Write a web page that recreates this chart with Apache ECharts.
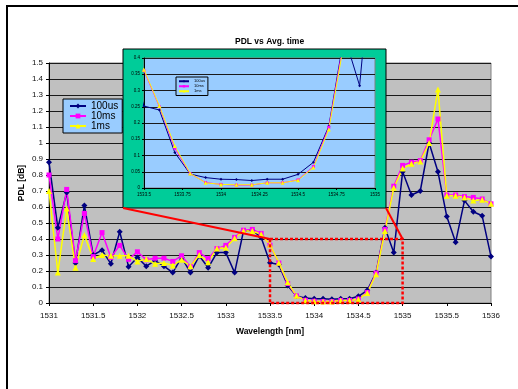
<!DOCTYPE html>
<html>
<head>
<meta charset="utf-8">
<script src="https://cdn.jsdelivr.net/npm/echarts@6/dist/echarts.min.js"></script>
<style>
  html, body { margin: 0; padding: 0; background: #fff; }
  #chart { width: 518px; height: 389px; }
</style>
</head>
<body>
<div id="chart"></div>
<script>
// Wavelength sample points [nm]
const wavelengths = [
  1531.0, 1531.1, 1531.2, 1531.3, 1531.4, 1531.5, 1531.6, 1531.7, 1531.8, 1531.9,
  1532.0, 1532.1, 1532.2, 1532.3, 1532.4, 1532.5, 1532.6, 1532.7, 1532.8, 1532.9,
  1533.0, 1533.1, 1533.2, 1533.3, 1533.4, 1533.5, 1533.6, 1533.7, 1533.8, 1533.9,
  1534.0, 1534.1, 1534.2, 1534.3, 1534.4, 1534.5, 1534.6, 1534.7, 1534.8, 1534.9,
  1535.0, 1535.1, 1535.2, 1535.3, 1535.4, 1535.5, 1535.6, 1535.7, 1535.8, 1535.9,
  1536.0
];

// PDL [dB] for each averaging time
const pdl100us = [
  0.88, 0.47, 0.69, 0.25, 0.61, 0.30, 0.33, 0.245, 0.445, 0.227,
  0.285, 0.23, 0.265, 0.23, 0.19, 0.285, 0.19, 0.295, 0.22, 0.315,
  0.315, 0.19, 0.45, 0.455, 0.41, 0.252, 0.24, 0.109, 0.043, 0.032,
  0.027, 0.026, 0.023, 0.027, 0.027, 0.042, 0.079, 0.19, 0.47, 0.315,
  0.82, 0.675, 0.70, 1.00, 0.82, 0.54, 0.38, 0.64, 0.57, 0.545,
  0.29
];
const pdl10ms = [
  0.80, 0.40, 0.71, 0.265, 0.56, 0.29, 0.44, 0.285, 0.36, 0.273,
  0.32, 0.27, 0.28, 0.28, 0.26, 0.295, 0.227, 0.315, 0.277, 0.34,
  0.36, 0.41, 0.455, 0.46, 0.435, 0.361, 0.25, 0.122, 0.044, 0.017,
  0.011, 0.009, 0.009, 0.016, 0.016, 0.025, 0.066, 0.187, 0.46, 0.73,
  0.86, 0.88, 0.89, 1.02, 1.15, 0.675, 0.675, 0.665, 0.66, 0.65,
  0.62
];
const pdl1ms = [
  0.70, 0.19, 0.59, 0.22, 0.425, 0.275, 0.30, 0.295, 0.295, 0.295,
  0.26, 0.275, 0.245, 0.25, 0.235, 0.27, 0.23, 0.30, 0.255, 0.34,
  0.345, 0.405, 0.45, 0.45, 0.43, 0.364, 0.252, 0.129, 0.045, 0.016,
  0.011, 0.010, 0.010, 0.016, 0.016, 0.024, 0.063, 0.18, 0.45, 0.72,
  0.84, 0.87, 0.885, 1.00, 1.335, 0.67, 0.67, 0.66, 0.64, 0.645,
  0.62
];

const seriesNames = ['100us', '10ms', '1ms'];
const seriesColors = ['#000080', '#FF00FF', '#FFFF00'];
const seriesSymbols = ['diamond', 'rect', 'triangle'];
const seriesValues = [pdl100us, pdl10ms, pdl1ms];

// Axis ranges
const mainX = { min: 1531, max: 1536, step: 0.5 };
const mainY = { min: 0, max: 1.5, step: 0.1 };
const zoomX = { min: 1533.5, max: 1535, step: 0.25 };
const zoomY = { min: 0, max: 0.4, step: 0.05 };

const FONT = '"Liberation Sans", Arial, sans-serif';

// Layout of the two plot areas
const mainGrid = { left: 49, top: 63, width: 442, height: 240 };
const insetGrid = { left: 144, top: 58, width: 231, height: 130 };
const insetFrame = {
  x: insetGrid.left - 21, y: insetGrid.top - 9,
  width: insetGrid.width + 32, height: insetGrid.height + 29
};

const chart = echarts.init(document.getElementById('chart'), null, { renderer: 'canvas' });

const pairs = vals => wavelengths.map((w, i) => [w, vals[i]]);

const mainSeries = seriesValues.map((vals, k) => ({
  name: seriesNames[k],
  type: 'line',
  xAxisIndex: 0, yAxisIndex: 0,
  data: pairs(vals),
  symbol: seriesSymbols[k],
  symbolSize: k === 0 ? 6 : (k === 1 ? 5 : 6),
  showAllSymbol: true,
  lineStyle: { color: seriesColors[k], width: 1.5 },
  itemStyle: { color: seriesColors[k], borderWidth: 0 },
  emphasis: { disabled: true },
  animation: false,
  z: 2
}));

const insetSeries = seriesValues.map((vals, k) => ({
  name: seriesNames[k],
  type: 'line',
  xAxisIndex: 1, yAxisIndex: 1,
  data: pairs(vals),
  symbol: seriesSymbols[k],
  symbolSize: k === 2 ? 4 : 3,
  showAllSymbol: true,
  clip: true,
  lineStyle: { color: seriesColors[k], width: 1 },
  itemStyle: { color: seriesColors[k], borderWidth: 0 },
  emphasis: { disabled: true },
  animation: false,
  z: 6
}));

const tickFmt = v => String(Math.round(v * 1000) / 1000);

chart.setOption({
  animation: false,
  title: {
    text: 'PDL vs Avg. time',
    left: 230, top: 32,
    textStyle: { fontFamily: FONT, fontSize: 8.5, fontWeight: 'bold', color: '#000' }
  },
  legend: [
    {
      data: seriesNames,
      orient: 'vertical',
      left: 63, top: 99,
      backgroundColor: '#99CCFF',
      borderColor: '#000', borderWidth: 1, borderRadius: 0,
      padding: [2, 4, 2, 6],
      itemWidth: 16, itemHeight: 6, itemGap: 0,
      textStyle: { fontFamily: FONT, fontSize: 10, lineHeight: 10, color: '#000' },
      selectedMode: false,
      z: 8
    },
    {
      data: seriesNames,
      orient: 'vertical',
      left: 176, top: 77,
      backgroundColor: '#99CCFF',
      borderColor: '#000', borderWidth: 1, borderRadius: 0,
      padding: [2, 3, 2, 2],
      itemWidth: 10, itemHeight: 3, itemGap: 0.5,
      textStyle: { fontFamily: FONT, fontSize: 4, lineHeight: 4.5, color: '#000' },
      selectedMode: false,
      z: 8
    }
  ],
  grid: [
    Object.assign({ show: true, backgroundColor: '#C0C0C0', borderColor: '#808080', borderWidth: 1, z: 0 }, mainGrid),
    Object.assign({ show: true, backgroundColor: '#99CCFF', borderColor: '#808080', borderWidth: 1, z: 4 }, insetGrid)
  ],
  xAxis: [
    {
      type: 'value', gridIndex: 0,
      min: mainX.min, max: mainX.max, interval: mainX.step,
      name: 'Wavelength [nm]', nameLocation: 'middle', nameGap: 24, nameMoveOverlap: false,
      nameTextStyle: { fontFamily: FONT, fontSize: 8.5, fontWeight: 'bold', color: '#000' },
      axisLine: { lineStyle: { color: '#000', width: 1 } },
      axisTick: { show: true, length: 3, lineStyle: { color: '#000' } },
      axisLabel: { fontFamily: FONT, fontSize: 8, color: '#111', margin: 9, formatter: tickFmt },
      splitLine: { show: false }
    },
    {
      type: 'value', gridIndex: 1,
      min: zoomX.min, max: zoomX.max, interval: zoomX.step,
      axisLine: { lineStyle: { color: '#000', width: 1 } },
      axisTick: { show: true, length: 2, lineStyle: { color: '#000' } },
      axisLabel: { fontFamily: FONT, fontSize: 4.5, color: '#000', margin: 4, formatter: tickFmt },
      splitLine: { show: false },
      z: 5
    }
  ],
  yAxis: [
    {
      type: 'value', gridIndex: 0,
      min: mainY.min, max: mainY.max, interval: mainY.step,
      name: 'PDL [dB]', nameLocation: 'middle', nameGap: 23, nameMoveOverlap: false,
      nameTextStyle: { fontFamily: FONT, fontSize: 8.5, fontWeight: 'bold', color: '#000' },
      axisLine: { show: true, lineStyle: { color: '#000', width: 1 } },
      axisTick: { show: true, length: 3, lineStyle: { color: '#000' } },
      axisLabel: { fontFamily: FONT, fontSize: 8, color: '#111', margin: 6, formatter: tickFmt },
      splitLine: { show: true, lineStyle: { color: '#1a1a1a', width: 1 } }
    },
    {
      type: 'value', gridIndex: 1,
      min: zoomY.min, max: zoomY.max, interval: zoomY.step,
      axisLine: { show: true, lineStyle: { color: '#000', width: 1 } },
      axisTick: { show: true, length: 2, lineStyle: { color: '#000' } },
      axisLabel: { fontFamily: FONT, fontSize: 4.5, color: '#000', margin: 4, formatter: tickFmt },
      splitLine: { show: true, lineStyle: { color: '#1a1a1a', width: 1 } },
      z: 5
    }
  ],
  series: mainSeries.concat(insetSeries)
});

// Zoom-region outline on the main plot, and connectors to the inset frame
const topLeft = chart.convertToPixel({ gridIndex: 0 }, [zoomX.min, zoomY.max]);
const botRight = chart.convertToPixel({ gridIndex: 0 }, [zoomX.max, zoomY.min]);
const frameBottom = insetFrame.y + insetFrame.height;

chart.setOption({
  graphic: [
    {
      type: 'rect', z: 1,
      shape: { x: 7, y: 6, width: 540, height: 420 },
      style: { fill: 'none', stroke: '#000', lineWidth: 2 }
    },
    {
      type: 'rect', z: 3,
      shape: { x: insetFrame.x, y: insetFrame.y, width: insetFrame.width, height: insetFrame.height },
      style: { fill: '#00CC99', stroke: '#000', lineWidth: 1 }
    },
    {
      type: 'rect', z: 3,
      shape: { x: topLeft[0], y: topLeft[1], width: botRight[0] - topLeft[0], height: botRight[1] - topLeft[1] },
      style: { fill: 'none', stroke: '#FF0000', lineWidth: 2.5, lineDash: [3, 2] }
    },
    {
      type: 'line', z: 3,
      shape: { x1: insetFrame.x, y1: frameBottom, x2: topLeft[0], y2: topLeft[1] },
      style: { stroke: '#FF0000', lineWidth: 2 }
    },
    {
      type: 'line', z: 3,
      shape: { x1: insetFrame.x + insetFrame.width, y1: frameBottom, x2: botRight[0], y2: topLeft[1] },
      style: { stroke: '#FF0000', lineWidth: 2 }
    }
  ]
});
</script>
</body>
</html>
